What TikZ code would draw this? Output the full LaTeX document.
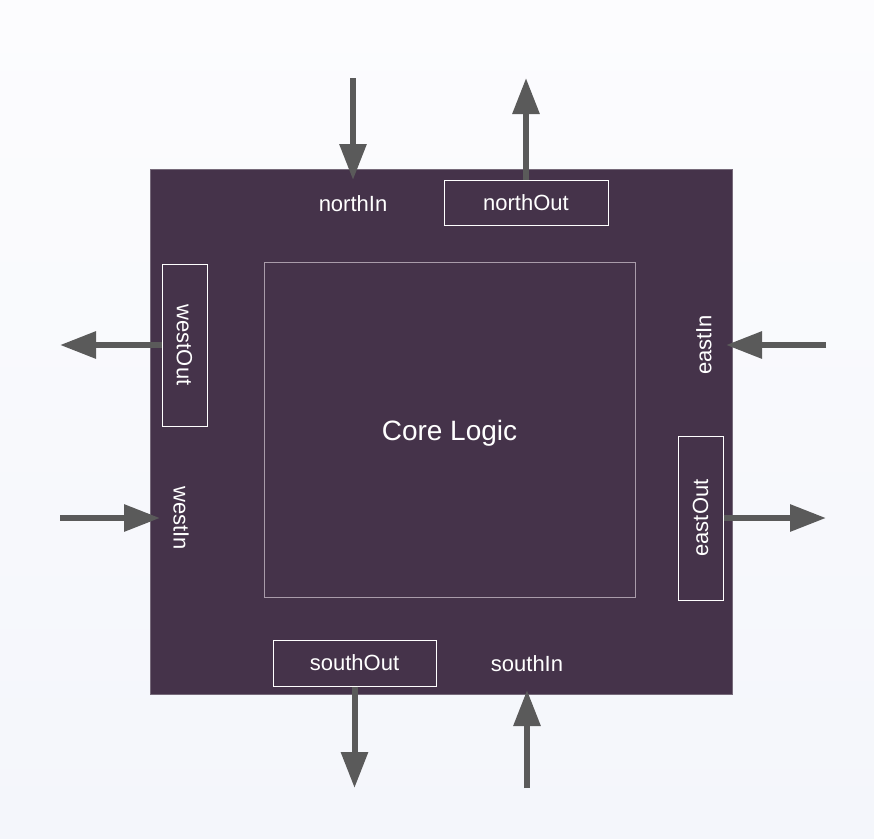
\documentclass[tikz,border=0pt]{standalone}
\usepackage{fontspec}
\setmainfont{Liberation Sans}
\usetikzlibrary{arrows.meta}
\definecolor{bgA}{HTML}{FCFCFE}
\definecolor{bgB}{HTML}{F4F6FB}
\definecolor{chip}{HTML}{45334A}
\definecolor{chipedge}{HTML}{766A7A}
\definecolor{arr}{HTML}{5A5A5A}
\definecolor{innerline}{HTML}{A99CAA}
\begin{document}
\begin{tikzpicture}[x=1pt,y=-1pt,
  port/.style={text=white,font=\fontsize{22}{25}\selectfont,inner sep=0pt},
  portbox/.style={port,draw=white,line width=1pt},
  flow/.style={draw=arr,line width=6pt,-{Triangle[length=36pt,width=26pt]}}]
\useasboundingbox (0,0) rectangle (874,838);
\shade[top color=bgA,bottom color=bgB] (0,0) rectangle (874,838);
\node[fill=chip,draw=chipedge,line width=0.8pt,minimum width=582pt,minimum height=525pt,inner sep=0pt] (chip) at (441,431.5) {};
\node[draw=innerline,line width=0.8pt,minimum width=371pt,minimum height=335pt,inner sep=0pt,
  label={[text=white,font=\fontsize{28}{32}\selectfont,yshift=-4pt]center:Core Logic}] (core) at (449.5,429.5) {};
% labels
\node[port] (nI) at (353,204) {northIn};
\node[port,rotate=-90] (wI) at (181,518) {westIn};
\node[port,rotate=90] (eI) at (704,345) {eastIn};
\node[port] (sI) at (527,664) {southIn};
% boxes
\node[portbox,minimum width=164pt,minimum height=45pt] (nO) at (526,202.5) {northOut};
\node[portbox,rotate=-90,minimum width=162pt,minimum height=45pt] (wO) at (184.5,345) {westOut};
\node[portbox,rotate=90,minimum width=164pt,minimum height=45pt] (eO) at (700.5,518) {eastOut};
\node[portbox,minimum width=163pt,minimum height=46pt] (sO) at (354.5,663) {southOut};
% free ends
\coordinate (nIsrc) at (353,78);
\coordinate (nOdst) at (526,78);
\coordinate (wOdst) at (60,345);
\coordinate (wIsrc) at (60,518);
\coordinate (eIsrc) at (826,345);
\coordinate (eOdst) at (826,518);
\coordinate (sOdst) at (354.5,788);
\coordinate (sIsrc) at (527,788);
% arrows
\draw[flow] (nIsrc) -- ([yshift=24pt]nI.center);
\draw[flow] (nO.north) -- (nOdst);
\draw[flow] (wO.south) -- (wOdst);
\draw[flow] (wIsrc) -- ([xshift=-21pt]wI.center);
\draw[flow] (eIsrc) -- ([xshift=22pt]eI.center);
\draw[flow] (eO.south) -- (eOdst);
\draw[flow] (sO.south) -- (sOdst);
\draw[flow] (sIsrc) -- ([yshift=-26pt]sI.center);
\end{tikzpicture}
\end{document}
